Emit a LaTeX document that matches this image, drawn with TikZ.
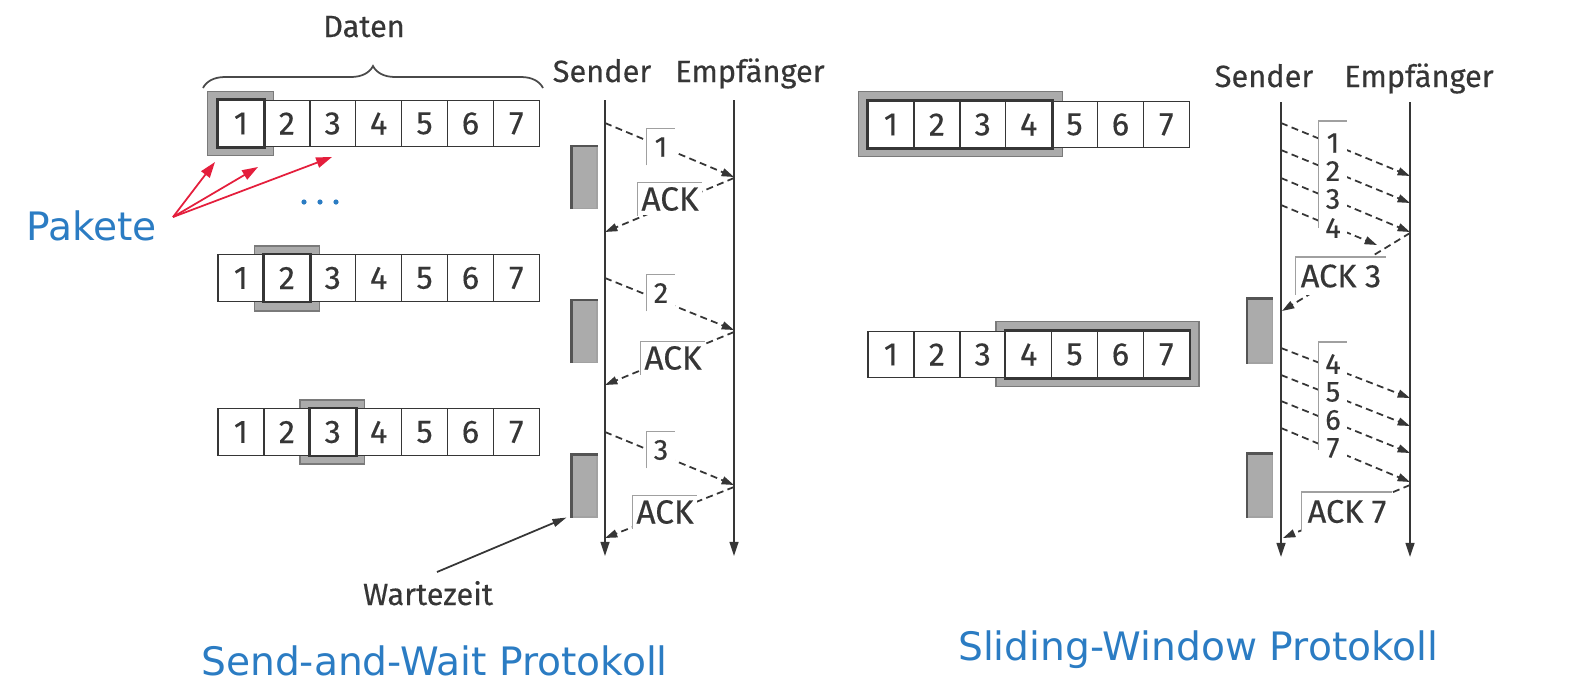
\documentclass[tikz,border=0pt]{standalone}
\usepackage{fontspec}
\setmainfont{Fira Sans}[FakeBold=0.35]
\newfontfamily\bluefont{DejaVu Sans}
\usetikzlibrary{arrows.meta,decorations.pathreplacing,backgrounds}
\definecolor{linec}{HTML}{363636}
\definecolor{winfill}{HTML}{ABABAB}
\definecolor{winedge}{HTML}{7A7A7A}
\definecolor{framec}{HTML}{A0A0A0}
\definecolor{bluetxt}{HTML}{2B7CC3}
\definecolor{redarr}{HTML}{E41E3C}
\newcommand\cellrow[3]{\foreach \i in {1,...,7}{\node[cell] (#1\i) at ({#2+45.9*(\i-0.5)},#3) {\i};}}
\begin{document}
\begin{tikzpicture}[x=0.02cm,y=-0.02cm,
  cell/.style={draw=linec,line width=0.8pt,fill=white,minimum width=0.918cm,minimum height=0.93cm,inner sep=0pt,font=\fontsize{18.5}{18.5}\selectfont,text=linec},
  window/.style={fill=winfill,draw=winedge,line width=0.8pt},
  winline/.style={draw=linec,line width=1.6pt},
  timeline/.style={draw=linec,line width=1.1pt,-{Triangle[length=8pt,width=5pt]}},
  msg/.style={draw=linec,line width=1pt,dash pattern=on 4pt off 2.5pt,-{Triangle[length=7pt,width=4.5pt]}},
  numlbl/.style={fill=white,inner sep=0pt,minimum width=0.56cm,minimum height=0.5cm,font=\fontsize{16.5}{16.5}\selectfont,text=linec},
  acklbl/.style={fill=white,inner xsep=2pt,inner ysep=2.5pt,font=\fontsize{19}{19}\selectfont,text=linec},
  bigack/.style={fill=white,inner sep=0pt,minimum width=1.8cm,minimum height=0.74cm,font=\fontsize{18.5}{18.5}\selectfont,text=linec},
  frameline/.style={draw=framec,line width=0.9pt},
  waitbox/.style={fill=winfill,draw=winedge!70,line width=0.6pt,minimum width=0.5cm,minimum height=1.24cm,inner sep=0pt},
  waitedge/.style={draw=linec!85,line width=1.4pt},
  head/.style={font=\fontsize{17.5}{17.5}\selectfont,text=linec,anchor=base},
  bluelbl/.style={font=\bluefont\fontsize{22.3}{22.3}\selectfont,text=bluetxt,anchor=base west},
  redarrow/.style={draw=redarr,line width=1pt,-{Triangle[length=9pt,width=6pt]}},
  pointer/.style={draw=linec,line width=1pt,-{Triangle[length=8pt,width=4.5pt]}},
]
\useasboundingbox (0,0) rectangle (1575,697);

% ---------------- left: Send-and-Wait ----------------
\node[head] (daten) at (364,37) {Daten};
\draw[decorate,decoration={brace,amplitude=0.44cm},draw=linec!90,line width=1pt] (203,88) -- (543,88);

\cellrow{La}{218}{123.5}
\cellrow{Lb}{218}{278}
\cellrow{Lc}{218}{432}
\begin{scope}[on background layer]
  \draw[window] ([shift={(-10,-8)}]La1.north west) rectangle ([shift={(9,8)}]La1.south east);
  \draw[window] ([shift={(-9,-8)}]Lb2.north west) rectangle ([shift={(9,9)}]Lb2.south east);
  \draw[window] ([shift={(-9,-8)}]Lc3.north west) rectangle ([shift={(8,8)}]Lc3.south east);
\end{scope}
\draw[winline] (La1.north west) rectangle (La1.south east);
\draw[winline] (Lb2.north west) rectangle (Lb2.south east);
\draw[winline] (Lc3.north west) rectangle (Lc3.south east);

% Pakete
\node[bluelbl] (pakete) at (20,240) {Pakete};
\coordinate (pk) at (173,217);
\coordinate (t1) at (215,162);
\coordinate (t2) at (258,167);
\coordinate (t3) at (332,157);
\draw[redarrow] (pk) -- (t1);
\draw[redarrow] (pk) -- (t2);
\draw[redarrow] (pk) -- (t3);
\foreach \xx in {304,320,336} \fill[bluetxt] (\xx,202) circle (2.6);

% timelines
\node[head] (ls) at (602,82) {Sender};
\node[head] (lr) at (750,82) {Empfänger};
\coordinate (LSt) at (605,100); \coordinate (LSb) at (605,556);
\coordinate (LRt) at (734,100); \coordinate (LRb) at (734,556);
\draw[timeline] (LSt) -- (LSb);
\draw[timeline] (LRt) -- (LRb);

% wait boxes
\node[waitbox] (w1) at (584.5,177.5) {};
\node[waitbox] (w2) at (584.5,331.5) {};
\node[waitbox] (w3) at (584.5,486) {};
\foreach \w in {w1,w2,w3} \draw[waitedge] (\w.south west) |- (\w.north east);

% messages
\coordinate (p1s) at (605,123); \coordinate (p1e) at (734,177);
\coordinate (a1s) at (734,178); \coordinate (a1e) at (605,232);
\coordinate (p2s) at (605,278); \coordinate (p2e) at (734,330);
\coordinate (a2s) at (734,332); \coordinate (a2e) at (605,385);
\coordinate (p3s) at (605,432); \coordinate (p3e) at (734,485);
\coordinate (a3s) at (734,487); \coordinate (a3e) at (605,538);
\foreach \m in {p1,a1,p2,a2,p3,a3} \draw[msg] (\m s) -- (\m e);

\node[numlbl,minimum height=0.72cm] (n1) at (661,147) {1};
\node[numlbl,minimum height=0.72cm] (n2) at (661,293) {2};
\node[numlbl,minimum height=0.72cm] (n3) at (661,450) {3};
\foreach \n in {n1,n2,n3} \draw[frameline] (\n.south west) |- (\n.north east);
\node[acklbl] (k1) at (670,199) {ACK};
\node[acklbl] (k2) at (673,358) {ACK};
\node[acklbl] (k3) at (665,512) {ACK};
\foreach \n in {k1,k2,k3} \draw[frameline] (\n.south west) |- (\n.north east);

% Wartezeit
\node[head] (wz) at (428,605) {Wartezeit};
\coordinate (wzs) at (437,572);
\draw[pointer] (wzs) -- ([shift={(-5,0)}]w3.south west);

\node[bluelbl] (swp) at (195,675) {Send-and-Wait Protokoll};

% ---------------- right: Sliding Window ----------------
\cellrow{Ra}{868}{124.5}
\cellrow{Rb}{868}{354.5}
\begin{scope}[on background layer]
  \draw[window] ([shift={(-9,-9)}]Ra1.north west) rectangle ([shift={(10,8)}]Ra4.south east);
  \draw[window] ([shift={(-9,-9)}]Rb4.north west) rectangle ([shift={(9,8)}]Rb7.south east);
\end{scope}
\draw[winline] (Ra1.north west) rectangle (Ra4.south east);
\draw[winline] (Rb4.north west) rectangle (Rb7.south east);

\node[head] (rs) at (1264,87) {Sender};
\node[head] (rr) at (1419,87) {Empfänger};
\coordinate (RSt) at (1281,102); \coordinate (RSb) at (1281,557);
\coordinate (RRt) at (1410,102); \coordinate (RRb) at (1410,557);
\draw[timeline] (RSt) -- (RSb);
\draw[timeline] (RRt) -- (RRb);

\node[waitbox,minimum height=1.28cm] (w4) at (1260,331) {};
\node[waitbox,minimum height=1.26cm] (w5) at (1260,485.5) {};
\foreach \w in {w4,w5} \draw[waitedge] (\w.south west) |- (\w.north east);

\coordinate (q1s) at (1281,123); \coordinate (q1e) at (1410,176);
\coordinate (q2s) at (1281,150); \coordinate (q2e) at (1410,203);
\coordinate (q3s) at (1281,178); \coordinate (q3e) at (1410,232);
\coordinate (q4s) at (1281,205); \coordinate (q4e) at (1377,245);
\coordinate (b3s) at (1410,233); \coordinate (b3e) at (1282,311);
\coordinate (q5s) at (1281,348); \coordinate (q5e) at (1410,398);
\coordinate (q6s) at (1281,375); \coordinate (q6e) at (1410,426);
\coordinate (q7s) at (1281,401); \coordinate (q7e) at (1410,453);
\coordinate (q8s) at (1281,428); \coordinate (q8e) at (1410,482);
\coordinate (b7s) at (1410,485); \coordinate (b7e) at (1283,538);
\foreach \m in {q1,q2,q3,q4,b3,q5,q6,q7,q8,b7} \draw[msg] (\m s) -- (\m e);

\node[numlbl] (r1) at (1333,143) {1};
\node[numlbl] (r2) at (1333,171) {2};
\node[numlbl] (r3) at (1333,199) {3};
\node[numlbl] (r4) at (1333,228) {4};
\draw[frameline] (r4.west) |- ([shift={(0,-9)}]r1.north east);
\node[numlbl] (r5) at (1333,364) {4};
\node[numlbl] (r6) at (1333,392) {5};
\node[numlbl] (r7) at (1333,420) {6};
\node[numlbl] (r8) at (1333,448) {7};
\draw[frameline] ([shift={(0,2)}]r8.west) |- ([shift={(0,-9)}]r5.north east);

\node[bigack] (ack3) at (1341,276) {ACK 3};
\node[bigack,minimum height=0.76cm] (ack7) at (1347,511.5) {ACK 7};
\foreach \n in {ack3,ack7} \draw[frameline] (\n.south west) |- (\n.north east);

\node[bluelbl] (slp) at (952,660) {Sliding-Window Protokoll};
\end{tikzpicture}
\end{document}
